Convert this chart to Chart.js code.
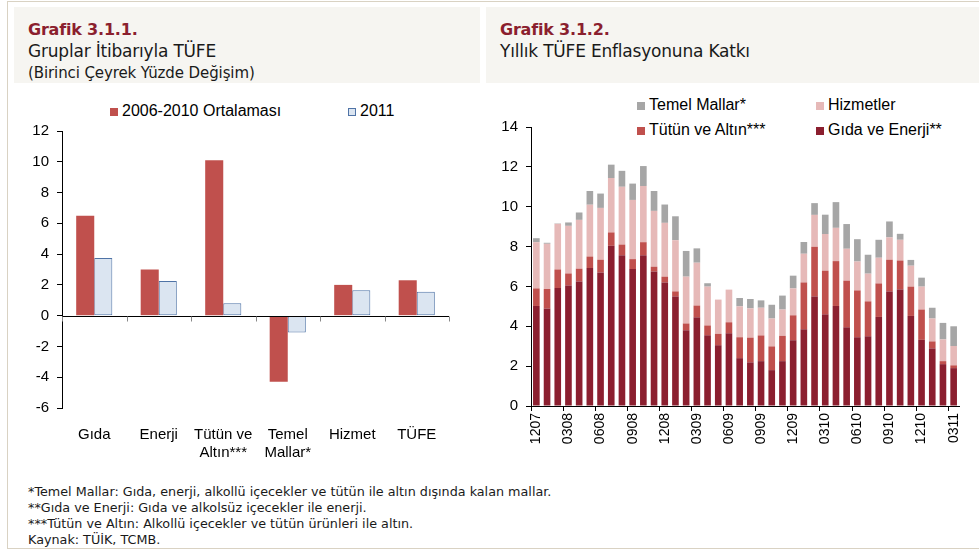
<!DOCTYPE html>
<html>
<head>
<meta charset="utf-8">
<script src="https://cdn.jsdelivr.net/npm/chart.js@4"></script>
<style>
  body { margin: 0; background: #fff; width: 979px; height: 554px; position: relative; overflow: hidden; font-family: "DejaVu Sans", sans-serif; }
  .frame { position: absolute; left: 7px; top: 1px; width: 980px; height: 546px; border-left: 1px solid #d9d2c3; border-top: 1px solid #d9d2c3; border-bottom: 1px solid #d9d2c3; }
  .head { position: absolute; top: 7px; height: 76px; background: #f6f5f1; }
  .head .g { position: absolute; left: 14px; top: 13px; font: bold 16px "DejaVu Sans", sans-serif; color: #8b1f2e; letter-spacing: -0.2px; }
  .head .t { position: absolute; left: 14px; top: 34px; font: 17px "DejaVu Sans", sans-serif; color: #1a1a1a; letter-spacing: -0.2px; }
  .head .s { position: absolute; left: 14px; top: 57px; font: 15px "DejaVu Sans", sans-serif; color: #1a1a1a; letter-spacing: -0.1px; }
  canvas { position: absolute; }
  .leg { position: absolute; font: 16px "Liberation Sans", Arial, sans-serif; color: #000; white-space: nowrap; }
  .leg i { position: absolute; width: 8px; height: 8px; box-sizing: border-box; }
  .leg span { position: absolute; }
  .notes { position: absolute; left: 28px; top: 484px; font: 12.75px "DejaVu Sans", sans-serif; color: #1a1a1a; line-height: 16px; white-space: nowrap; }
</style>
</head>
<body>
<div class="frame"></div>
<div class="head" style="left:14px; width:466px;">
  <div class="g">Grafik 3.1.1.</div>
  <div class="t">Gruplar İtibarıyla TÜFE</div>
  <div class="s">(Birinci Çeyrek Yüzde Değişim)</div>
</div>
<div class="head" style="left:486px; width:493px;">
  <div class="g">Grafik 3.1.2.</div>
  <div class="t">Yıllık TÜFE Enflasyonuna Katkı</div>
</div>
<div id="leg1"></div>
<div id="leg2"></div>
<canvas id="c1" width="472" height="346" style="left:8px; top:114px; width:472px; height:346px;"></canvas>
<canvas id="c2" width="485" height="350" style="left:490px; top:110px; width:485px; height:350px;"></canvas>
<div class="notes">
  *Temel Mallar: Gıda, enerji, alkollü içecekler ve tütün ile altın dışında kalan mallar.<br>
  **Gıda ve Enerji: Gıda ve alkolsüz içecekler ile enerji.<br>
  ***Tütün ve Altın: Alkollü içecekler ve tütün ürünleri ile altın.<br>
  Kaynak: TÜİK, TCMB.
</div>
<script>
// Grafik 3.1.1 – first quarter % change by group
const groups = ["Gıda", "Enerji", ["Tütün ve", "Altın***"], ["Temel", "Mallar*"], "Hizmet", "TÜFE"];
const avg0610 = [6.5, 3.0, 10.1, -4.3, 2.0, 2.3];
const y2011 = [3.75, 2.25, 0.8, -1.1, 1.65, 1.55];

// Grafik 3.1.2 – contributions to annual CPI inflation
const months = ["1207", "0108", "0208", "0308", "0408", "0508", "0608", "0708", "0808", "0908",
  "1008", "1108", "1208", "0109", "0209", "0309", "0409", "0509", "0609", "0709",
  "0809", "0909", "1009", "1109", "1209", "0110", "0210", "0310", "0410", "0510",
  "0610", "0710", "0810", "0910", "1010", "1110", "1210", "0111", "0211", "0311"];
const gidaEnerji = [5.02, 4.89, 5.92, 6.05, 6.25, 6.92, 6.70, 8.04, 7.57, 6.87,
  7.57, 6.75, 6.20, 5.50, 3.80, 4.45, 3.55, 3.05, 3.65, 2.40,
  2.19, 2.25, 1.80, 2.25, 3.30, 3.85, 5.50, 4.60, 5.02, 3.95,
  3.45, 3.50, 4.47, 5.75, 5.85, 4.52, 3.32, 2.89, 2.10, 1.90];
const tutunAltin = [0.88, 0.98, 0.93, 0.60, 0.64, 0.58, 0.64, 0.67, 0.53, 0.50,
  0.65, 0.24, 0.29, 0.25, 0.34, 0.59, 0.49, 0.57, 0.55, 1.05,
  1.24, 1.29, 1.19, 1.27, 1.25, 2.35, 2.49, 2.19, 2.25, 2.34,
  2.35, 1.75, 1.68, 1.59, 1.45, 1.47, 1.52, 0.35, 0.15, 0.14];
const hizmetler = [2.32, 2.27, 2.29, 2.39, 2.45, 2.60, 2.60, 2.73, 2.90, 2.97,
  2.82, 2.80, 2.70, 2.57, 2.35, 2.15, 1.95, 1.72, 1.64, 1.55,
  1.47, 1.39, 1.40, 1.32, 1.35, 1.44, 1.60, 1.84, 1.67, 1.60,
  1.45, 1.39, 1.29, 1.12, 1.04, 1.05, 1.15, 1.15, 1.09, 0.97];
const temelMallar = [0.20, 0.05, 0.02, 0.17, 0.37, 0.69, 0.72, 0.67, 0.80, 0.82,
  1.00, 1.00, 0.92, 1.20, 1.29, 0.72, 0.17, -0.10, -0.08, 0.42,
  0.47, 0.37, 0.69, 0.70, 0.64, 0.59, 0.59, 0.97, 1.29, 1.24,
  1.12, 0.95, 0.90, 0.80, 0.30, 0.29, 0.45, 0.54, 0.83, 0.99];

const tickFont = { family: "Liberation Sans, Arial, sans-serif", size: 15 };

// legends as html so the spacing can follow the original
function legend(id, items) {
  const box = document.getElementById(id);
  items.forEach(it => {
    const d = document.createElement("div");
    d.className = "leg";
    d.style.left = it.x + "px";
    d.style.top = it.y + "px";
    d.innerHTML = `<i style="left:0;top:4px;background:${it.fill};${it.border ? "border:1px solid " + it.border : ""}"></i><span style="left:12px;top:-2px">${it.label}</span>`;
    box.appendChild(d);
  });
}

const zeroLine = {
  id: "zeroLine",
  afterDatasetsDraw(chart) {
    const { ctx, chartArea, scales } = chart;
    const y0 = Math.round(scales.y.getPixelForValue(0)) + 0.5;
    ctx.save();
    ctx.strokeStyle = "#000";
    ctx.lineWidth = 1;
    ctx.beginPath();
    ctx.moveTo(chartArea.left, y0);
    ctx.lineTo(chartArea.right, y0);
    ctx.stroke();
    ctx.strokeStyle = "#888";
    for (let i = 0; i <= groups.length; i++) {
      const x = Math.round(scales.x.getPixelForValue(i - 0.5)) + 0.5;
      ctx.beginPath();
      ctx.moveTo(x, y0);
      ctx.lineTo(x, y0 + 5);
      ctx.stroke();
    }
    ctx.restore();
  }
};

const c1 = new Chart(document.getElementById("c1"), {
  type: "bar",
  data: {
    labels: groups,
    datasets: [
      { label: "2006-2010 Ortalaması", data: avg0610, backgroundColor: "#c0504d", borderColor: "#d87c7a", borderWidth: 0 },
      { label: "2011", data: y2011, backgroundColor: "#dbe5f1", borderColor: "#4f73a6", borderWidth: 1, borderSkipped: false },
    ],
  },
  options: {
    responsive: false,
    animation: false,
    categoryPercentage: 0.56,
    barPercentage: 1,
    layout: { padding: { top: 10, right: 31, left: 0, bottom: 0 } },
    plugins: { legend: { display: false }, tooltip: { enabled: false } },
    scales: {
      x: {
        grid: { display: false },
        border: { display: false },
        ticks: { color: "#000", font: tickFont, padding: 10, maxRotation: 0, autoSkip: false },
        afterFit: (s) => { s.height = 52; },
      },
      y: {
        min: -6, max: 12,
        ticks: { stepSize: 2, color: "#000", font: tickFont, padding: 8 },
        grid: { drawOnChartArea: false, drawTicks: true, tickLength: 5, color: "#000" },
        border: { display: true, color: "#000", width: 1 },
        afterFit: (s) => { s.width = 54; },
      },
    },
  },
  plugins: [zeroLine],
});

const c2 = new Chart(document.getElementById("c2"), {
  type: "bar",
  data: {
    labels: months,
    datasets: [
      { label: "Gıda ve Enerji**", data: gidaEnerji, backgroundColor: "#8b1f2f" },
      { label: "Tütün ve Altın***", data: tutunAltin, backgroundColor: "#c0504d" },
      { label: "Hizmetler", data: hizmetler, backgroundColor: "#e6b9b8" },
      { label: "Temel Mallar*", data: temelMallar, backgroundColor: "#a6a6a6" },
    ],
  },
  options: {
    responsive: false,
    animation: false,
    categoryPercentage: 0.62,
    barPercentage: 1,
    layout: { padding: { top: 10, right: 16, left: 0, bottom: 0 } },
    plugins: { legend: { display: false }, tooltip: { enabled: false } },
    scales: {
      x: {
        stacked: true,
        grid: {
          offset: true, drawOnChartArea: false, tickLength: 5,
          color: (ctx) => (ctx.index % 3 === 0 ? "#000" : "rgba(0,0,0,0)"),
        },
        border: { display: true, color: "#000", width: 1 },
        ticks: {
          color: "#000", font: { family: "Liberation Sans, Arial, sans-serif", size: 14 },
          autoSkip: false, maxRotation: 90, minRotation: 90, padding: 2,
          callback: function (val, index) { return index % 3 === 0 ? this.getLabelForValue(val) : ""; },
        },
        afterFit: (s) => { s.height = 54; },
      },
      y: {
        stacked: true,
        min: 0, max: 14,
        ticks: { stepSize: 2, color: "#000", font: tickFont, padding: 8 },
        grid: { drawOnChartArea: false, tickLength: 5, color: "#000" },
        border: { display: true, color: "#000", width: 1 },
        afterFit: (s) => { s.width = 41; },
      },
    },
  },
});

legend("leg1", [
  { x: 110, y: 104, fill: "#c0504d", label: c1.data.datasets[0].label },
  { x: 348, y: 104, fill: "#dbe5f1", border: "#4f73a6", label: c1.data.datasets[1].label },
]);
const ds = c2.data.datasets;
legend("leg2", [
  { x: 637, y: 98, fill: ds[3].backgroundColor, label: ds[3].label },
  { x: 816, y: 98, fill: ds[2].backgroundColor, label: ds[2].label },
  { x: 637, y: 123, fill: ds[1].backgroundColor, label: ds[1].label },
  { x: 816, y: 123, fill: ds[0].backgroundColor, label: ds[0].label },
]);
</script>
</body>
</html>
